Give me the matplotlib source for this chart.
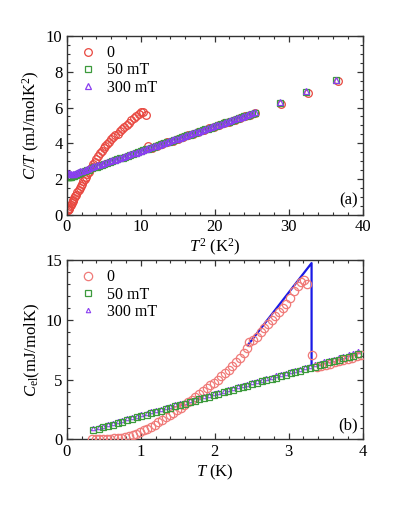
import matplotlib
matplotlib.use("Agg")
import matplotlib.pyplot as plt
from matplotlib.ticker import MultipleLocator

plt.rcParams['font.family'] = ['Liberation Serif', 'DejaVu Serif']
plt.rcParams['mathtext.fontset'] = 'custom'
plt.rcParams['mathtext.rm'] = 'Liberation Serif'
plt.rcParams['mathtext.it'] = 'Liberation Serif:italic'

# ---------------- Panel (a): C/T vs T^2 ----------------
a_T2_zero = [0.12, 0.2, 0.27, 0.35, 0.45, 0.55, 0.66, 0.78, 0.9, 1.02, 1.17, 1.3, 1.45, 1.6,
             1.75, 1.9, 2.07, 2.25, 2.42, 2.6, 2.8, 2.97, 3.17, 3.37, 3.58, 3.8, 4.02, 4.25,
             4.48, 4.72, 4.97, 5.22, 5.48, 5.75, 6.02, 6.3, 6.58, 6.87, 7.17, 7.47, 7.78, 8.1,
             8.42, 8.75, 9.08, 9.42, 9.77, 10.1, 10.3, 10.75, 11.05,
             11.5, 12.2, 12.9, 13.6, 14.3, 15.0, 15.7, 16.4, 17.1, 17.8, 18.5, 19.2, 19.9,
             20.6, 21.3, 22.0, 22.7, 23.4, 24.1, 24.8, 25.5, 28.9, 32.6, 36.7]
a_CT_zero = [0.28, 0.31, 0.36, 0.42, 0.5, 0.58, 0.67, 0.76, 0.86, 0.95, 1.05, 1.15, 1.27, 1.39,
             1.51, 1.63, 1.76, 1.89, 2.01, 2.14, 2.28, 2.41, 2.55, 2.69, 2.84, 2.99, 3.14, 3.29,
             3.44, 3.58, 3.72, 3.85, 3.98, 4.1, 4.22, 4.33, 4.44, 4.55, 4.67, 4.79, 4.91, 5.03,
             5.15, 5.28, 5.41, 5.53, 5.64, 5.73, 5.77, 5.6, 3.85,
             3.76, 3.86, 3.96, 4.05, 4.15, 4.25, 4.35, 4.44, 4.54, 4.64, 4.74, 4.83, 4.93,
             5.03, 5.13, 5.22, 5.32, 5.42, 5.52, 5.61, 5.71, 6.2, 6.83, 7.47]

a_T2_field = [0.12, 0.2, 0.3, 0.45, 0.6, 0.8, 1.0, 1.25, 1.5, 1.8, 2.1, 2.4, 2.7, 3.0, 3.35,
              3.7, 4.05, 4.4, 4.75, 5.1, 5.45, 5.8, 6.15, 6.5, 6.85, 7.2, 7.55, 7.9, 8.25,
              8.6, 8.95, 9.3, 9.65, 10.0, 10.35, 10.7, 11.05, 11.4, 11.75, 12.1, 12.45, 12.8,
              13.15, 13.5, 13.85, 14.2, 14.55, 14.9, 15.25, 15.6, 15.95, 16.3, 16.65, 17.0,
              17.35, 17.7, 18.05, 18.4, 18.75, 19.1, 19.45, 19.8, 20.15, 20.5, 20.85, 21.2,
              21.55, 21.9, 22.25, 22.6, 22.95, 23.3, 23.65, 24.0, 24.35, 24.7, 25.05, 25.4,
              28.8, 32.4, 36.4]
a_CT_50mT = [2.12, 2.11, 2.11, 2.12, 2.14, 2.17, 2.2, 2.24, 2.29, 2.34, 2.39, 2.44, 2.49, 2.54,
             2.6, 2.66, 2.71, 2.76, 2.81, 2.86, 2.91, 2.96, 3.01, 3.06, 3.11, 3.16, 3.21, 3.26,
             3.31, 3.36, 3.41, 3.46, 3.51, 3.56, 3.61, 3.66, 3.71, 3.75, 3.8, 3.85, 3.9, 3.95,
             4.0, 4.05, 4.1, 4.14, 4.19, 4.24, 4.29, 4.34, 4.39, 4.44, 4.48, 4.53, 4.58, 4.63,
             4.68, 4.73, 4.78, 4.82, 4.87, 4.92, 4.97, 5.02, 5.07, 5.12, 5.17, 5.21, 5.26,
             5.31, 5.36, 5.41, 5.46, 5.51, 5.55, 5.6, 5.65, 5.7, 6.24, 6.86, 7.52]
a_CT_300mT = [2.36, 2.33, 2.3, 2.28, 2.27, 2.28, 2.31, 2.35, 2.39, 2.44, 2.48, 2.53, 2.57, 2.62,
              2.67, 2.72, 2.77, 2.81, 2.86, 2.91, 2.96, 3.01, 3.06, 3.1, 3.15, 3.2, 3.25, 3.3,
              3.35, 3.4, 3.44, 3.49, 3.54, 3.59, 3.64, 3.69, 3.74, 3.78, 3.83, 3.88, 3.93, 3.98,
              4.03, 4.08, 4.13, 4.17, 4.22, 4.27, 4.32, 4.37, 4.42, 4.47, 4.51, 4.56, 4.61, 4.66,
              4.71, 4.76, 4.81, 4.85, 4.9, 4.95, 5.0, 5.05, 5.1, 5.15, 5.2, 5.24, 5.29, 5.34,
              5.39, 5.44, 5.49, 5.54, 5.58, 5.63, 5.68, 5.73, 6.28, 6.9, 7.56]

# ---------------- Panel (b): C_el vs T ----------------
b_T_zero = [0.34, 0.39, 0.44, 0.49, 0.54, 0.59, 0.64, 0.69, 0.74, 0.79, 0.84, 0.89, 0.94, 0.99,
            1.04, 1.09, 1.14, 1.19, 1.24, 1.29, 1.34, 1.39, 1.44, 1.49, 1.54, 1.59, 1.64, 1.69,
            1.74, 1.79, 1.84, 1.89, 1.94, 1.99, 2.04, 2.09, 2.14, 2.19, 2.24, 2.29, 2.34, 2.39,
            2.44, 2.47, 2.52, 2.57, 2.62, 2.67, 2.72, 2.77, 2.82, 2.87, 2.92, 2.97, 3.02, 3.07,
            3.12, 3.17, 3.21, 3.25, 3.32, 3.38, 3.44, 3.50, 3.56, 3.62, 3.68, 3.74, 3.80, 3.86,
            3.92, 3.98]
b_C_zero = [0.05, 0.05, 0.05, 0.06, 0.07, 0.08, 0.1, 0.12, 0.15, 0.2, 0.27, 0.35, 0.45, 0.6,
            0.75, 0.9, 1.07, 1.25, 1.45, 1.65, 1.85, 2.05, 2.22, 2.45, 2.65, 2.88, 3.1, 3.32,
            3.55, 3.8, 4.05, 4.3, 4.52, 4.75, 5.0, 5.28, 5.55, 5.85, 6.15, 6.5, 6.85, 7.25,
            7.65, 8.15, 8.3, 8.6, 8.95, 9.3, 9.65, 9.95, 10.3, 10.65, 11.0, 11.35, 11.8, 12.4,
            12.85, 13.2, 13.35, 13.0, 7.1, 6.1, 6.15, 6.25, 6.35, 6.45, 6.55, 6.65, 6.75, 6.85,
            6.95, 7.05]

b_T_field = [0.36, 0.43, 0.49, 0.56, 0.62, 0.69, 0.75, 0.82, 0.88, 0.95, 1.01, 1.08, 1.14,
             1.21, 1.27, 1.34, 1.40, 1.47, 1.53, 1.60, 1.66, 1.73, 1.79, 1.86, 1.92, 1.99,
             2.05, 2.12, 2.18, 2.25, 2.31, 2.38, 2.44, 2.51, 2.57, 2.64, 2.70, 2.77, 2.83,
             2.90, 2.96, 3.03, 3.09, 3.16, 3.22, 3.29, 3.35, 3.42, 3.48, 3.55, 3.61, 3.68,
             3.74, 3.81, 3.87, 3.94]
b_C_50mT = [0.78, 0.9, 1.01, 1.13, 1.24, 1.37, 1.48, 1.6, 1.72, 1.84, 1.95, 2.07, 2.18, 2.31,
            2.42, 2.54, 2.65, 2.78, 2.88, 3.0, 3.1, 3.22, 3.35, 3.48, 3.58, 3.72, 3.82, 3.94,
            4.05, 4.17, 4.28, 4.4, 4.5, 4.62, 4.73, 4.85, 4.96, 5.08, 5.18, 5.3, 5.41, 5.53,
            5.63, 5.76, 5.87, 5.99, 6.1, 6.22, 6.33, 6.45, 6.55, 6.67, 6.78, 6.9, 7.0, 7.12]
b_C_300mT = [0.93, 1.05, 1.16, 1.28, 1.39, 1.52, 1.63, 1.76, 1.87, 2.0, 2.11, 2.23, 2.34,
             2.47, 2.58, 2.7, 2.81, 2.94, 3.05, 3.17, 3.28, 3.4, 3.51, 3.63, 3.74, 3.86, 3.97,
             4.09, 4.2, 4.32, 4.43, 4.55, 4.66, 4.78, 4.89, 5.01, 5.12, 5.24, 5.35, 5.47,
             5.58, 5.7, 5.81, 5.93, 6.04, 6.16, 6.28, 6.4, 6.52, 6.64, 6.76, 6.88, 7.0, 7.13,
             7.26, 7.42]

# entropy-balance construction (blue line)
b_T_line = [2.45, 3.31, 3.31]
b_C_line = [7.9, 14.75, 6.3]

legend_labels = ['0', '50 mT', '300 mT']

fig = plt.figure(figsize=(3.95, 5.11), dpi=100)
axa = fig.add_axes([0.169, 0.579, 0.749, 0.351])
axb = fig.add_axes([0.169, 0.140, 0.749, 0.351])

fs = 12
fl = 11.5
red_a = '#e8473f'
red_b = '#f07a78'
green = '#3c9a3c'
purple = '#8a3ff0'

# panel a
axa.plot(a_T2_zero, a_CT_zero, 'o', mfc='none', mec=red_a, ms=5.5, mew=0.9, label=legend_labels[0])
axa.plot(a_T2_field, a_CT_50mT, 's', mfc='none', mec=green, ms=4.2, mew=0.9, label=legend_labels[1])
axa.plot(a_T2_field, a_CT_300mT, '^', mfc='none', mec=purple, ms=5.0, mew=0.9, label=legend_labels[2])
axa.set_xlim(0, 40)
axa.set_ylim(0, 10)
axa.xaxis.set_major_locator(MultipleLocator(10))
axa.xaxis.set_minor_locator(MultipleLocator(2))
axa.yaxis.set_major_locator(MultipleLocator(2))
axa.yaxis.set_minor_locator(MultipleLocator(0.5))
axa.set_xlabel(r'$T^{2}$ (K$^{2}$)', fontsize=fs, labelpad=1)
axa.set_ylabel(r'$C/T$ (mJ/molK$^{2}$)', fontsize=fs, labelpad=3)
axa.text(0.985, 0.035, '(a)', transform=axa.transAxes, ha='right', va='bottom', fontsize=fs)
axa.legend(loc='upper left', frameon=False, fontsize=fl, handletextpad=0.5,
           borderaxespad=0.3, labelspacing=0.08, handlelength=1.3,
           bbox_to_anchor=(0.0, 1.01))

# panel b
axb.plot(b_T_line, b_C_line, '-', color='#1a1ae6', lw=1.6, zorder=1)
axb.plot(b_T_zero, b_C_zero, 'o', mfc='none', mec=red_b, ms=6.0, mew=0.9, label=legend_labels[0], zorder=3)
axb.plot(b_T_field, b_C_50mT, 's', mfc='none', mec=green, ms=4.2, mew=0.9, label=legend_labels[1], zorder=3)
axb.plot(b_T_field, b_C_300mT, '^', mfc='none', mec=purple, ms=3.2, mew=0.8, label=legend_labels[2], zorder=2)
axb.set_xlim(0, 4)
axb.set_ylim(0, 15)
axb.xaxis.set_major_locator(MultipleLocator(1))
axb.xaxis.set_minor_locator(MultipleLocator(0.2))
axb.yaxis.set_major_locator(MultipleLocator(5))
axb.yaxis.set_minor_locator(MultipleLocator(1))
axb.set_xlabel(r'$T$ (K)', fontsize=fs, labelpad=2)
axb.set_ylabel(r'$C_{\rm el}$(mJ/molK)', fontsize=fs, labelpad=3)
axb.text(0.985, 0.035, '(b)', transform=axb.transAxes, ha='right', va='bottom', fontsize=fs)
axb.legend(loc='upper left', frameon=False, fontsize=fl, handletextpad=0.5,
           borderaxespad=0.3, labelspacing=0.08, handlelength=1.3,
           bbox_to_anchor=(0.0, 1.01))

for ax in (axa, axb):
    ax.tick_params(which='both', direction='in', top=True, right=True, labelsize=fs,
                   color='#333333', pad=3)
    ax.tick_params(which='major', length=4.5, width=0.9)
    ax.tick_params(which='minor', length=2.5, width=0.8)
    for s in ax.spines.values():
        s.set_linewidth(1.0)
        s.set_color('#333333')

fig.savefig('out.png', dpi=100)
